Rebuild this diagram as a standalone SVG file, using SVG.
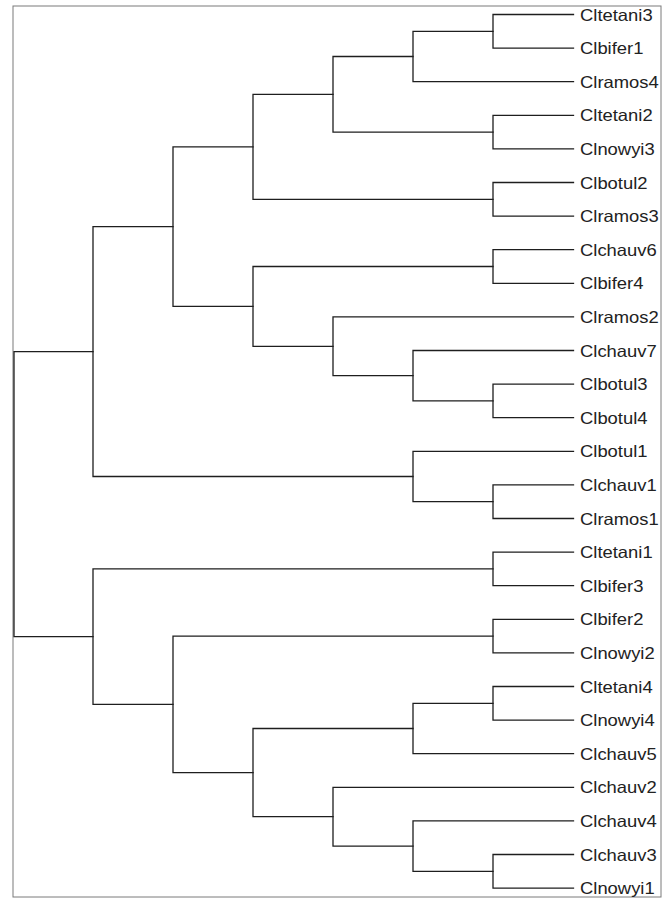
<svg xmlns="http://www.w3.org/2000/svg" width="665" height="899" viewBox="0 0 665 899">
  <style>
    .frame { fill: none; stroke: #7a7a7a; stroke-width: 1; }
    .edge { fill: none; stroke: #1e1e1e; stroke-width: 1.3; stroke-linejoin: miter; stroke-linecap: square; }
    .leaf text { font-family: "Liberation Sans", Arial, sans-serif; font-size: 16.3px; fill: #222; }
  </style>
  <rect class="frame" x="13" y="6" width="648" height="891"/>

  <!-- dendrogram branches: each path is one clade bracket -->
  <g id="connectors">
    <path class="edge" d="M573.5 14.5 H493 V48.1 H573.5"/>
    <path class="edge" d="M493 31.3 H413 V81.7 H573.5"/>
    <path class="edge" d="M573.5 115.3 H493 V148.9 H573.5"/>
    <path class="edge" d="M413 56.5 H333 V132.1 H493"/>
    <path class="edge" d="M573.5 182.5 H493 V216.1 H573.5"/>
    <path class="edge" d="M333 94.3 H253 V199.3 H493"/>
    <path class="edge" d="M573.5 249.7 H493 V283.3 H573.5"/>
    <path class="edge" d="M573.5 384.1 H493 V417.7 H573.5"/>
    <path class="edge" d="M573.5 350.5 H413 V400.9 H493"/>
    <path class="edge" d="M573.5 316.9 H333 V375.7 H413"/>
    <path class="edge" d="M493 266.5 H253 V346.3 H333"/>
    <path class="edge" d="M253 146.8 H173 V306.4 H253"/>
    <path class="edge" d="M573.5 484.9 H493 V518.5 H573.5"/>
    <path class="edge" d="M573.5 451.3 H413 V501.7 H493"/>
    <path class="edge" d="M173 226.6 H93 V476.5 H413"/>
    <path class="edge" d="M573.5 552.1 H493 V585.7 H573.5"/>
    <path class="edge" d="M573.5 619.3 H493 V652.9 H573.5"/>
    <path class="edge" d="M573.5 686.5 H493 V720.1 H573.5"/>
    <path class="edge" d="M493 703.3 H413 V753.7 H573.5"/>
    <path class="edge" d="M573.5 854.5 H493 V888.1 H573.5"/>
    <path class="edge" d="M573.5 820.9 H413 V871.3 H493"/>
    <path class="edge" d="M573.5 787.3 H333 V846.1 H413"/>
    <path class="edge" d="M413 728.5 H253 V816.7 H333"/>
    <path class="edge" d="M493 636.1 H173 V772.6 H253"/>
    <path class="edge" d="M493 568.9 H93 V704.35 H173"/>
    <path class="edge" d="M93 351.55 H14 V636.6 H93"/>
  </g>

  <!-- leaf labels -->
  <g id="leaf-Cltetani3" class="leaf"><text transform="translate(580 20.5) scale(1.13 1)">Cltetani3</text></g>
  <g id="leaf-Clbifer1" class="leaf"><text transform="translate(580 54.1) scale(1.13 1)">Clbifer1</text></g>
  <g id="leaf-Clramos4" class="leaf"><text transform="translate(580 87.7) scale(1.13 1)">Clramos4</text></g>
  <g id="leaf-Cltetani2" class="leaf"><text transform="translate(580 121.3) scale(1.13 1)">Cltetani2</text></g>
  <g id="leaf-Clnowyi3" class="leaf"><text transform="translate(580 154.9) scale(1.13 1)">Clnowyi3</text></g>
  <g id="leaf-Clbotul2" class="leaf"><text transform="translate(580 188.5) scale(1.13 1)">Clbotul2</text></g>
  <g id="leaf-Clramos3" class="leaf"><text transform="translate(580 222.1) scale(1.13 1)">Clramos3</text></g>
  <g id="leaf-Clchauv6" class="leaf"><text transform="translate(580 255.7) scale(1.13 1)">Clchauv6</text></g>
  <g id="leaf-Clbifer4" class="leaf"><text transform="translate(580 289.3) scale(1.13 1)">Clbifer4</text></g>
  <g id="leaf-Clramos2" class="leaf"><text transform="translate(580 322.9) scale(1.13 1)">Clramos2</text></g>
  <g id="leaf-Clchauv7" class="leaf"><text transform="translate(580 356.5) scale(1.13 1)">Clchauv7</text></g>
  <g id="leaf-Clbotul3" class="leaf"><text transform="translate(580 390.1) scale(1.13 1)">Clbotul3</text></g>
  <g id="leaf-Clbotul4" class="leaf"><text transform="translate(580 423.7) scale(1.13 1)">Clbotul4</text></g>
  <g id="leaf-Clbotul1" class="leaf"><text transform="translate(580 457.3) scale(1.13 1)">Clbotul1</text></g>
  <g id="leaf-Clchauv1" class="leaf"><text transform="translate(580 490.9) scale(1.13 1)">Clchauv1</text></g>
  <g id="leaf-Clramos1" class="leaf"><text transform="translate(580 524.5) scale(1.13 1)">Clramos1</text></g>
  <g id="leaf-Cltetani1" class="leaf"><text transform="translate(580 558.1) scale(1.13 1)">Cltetani1</text></g>
  <g id="leaf-Clbifer3" class="leaf"><text transform="translate(580 591.7) scale(1.13 1)">Clbifer3</text></g>
  <g id="leaf-Clbifer2" class="leaf"><text transform="translate(580 625.3) scale(1.13 1)">Clbifer2</text></g>
  <g id="leaf-Clnowyi2" class="leaf"><text transform="translate(580 658.9) scale(1.13 1)">Clnowyi2</text></g>
  <g id="leaf-Cltetani4" class="leaf"><text transform="translate(580 692.5) scale(1.13 1)">Cltetani4</text></g>
  <g id="leaf-Clnowyi4" class="leaf"><text transform="translate(580 726.1) scale(1.13 1)">Clnowyi4</text></g>
  <g id="leaf-Clchauv5" class="leaf"><text transform="translate(580 759.7) scale(1.13 1)">Clchauv5</text></g>
  <g id="leaf-Clchauv2" class="leaf"><text transform="translate(580 793.3) scale(1.13 1)">Clchauv2</text></g>
  <g id="leaf-Clchauv4" class="leaf"><text transform="translate(580 826.9) scale(1.13 1)">Clchauv4</text></g>
  <g id="leaf-Clchauv3" class="leaf"><text transform="translate(580 860.5) scale(1.13 1)">Clchauv3</text></g>
  <g id="leaf-Clnowyi1" class="leaf"><text transform="translate(580 894.1) scale(1.13 1)">Clnowyi1</text></g>
</svg>
